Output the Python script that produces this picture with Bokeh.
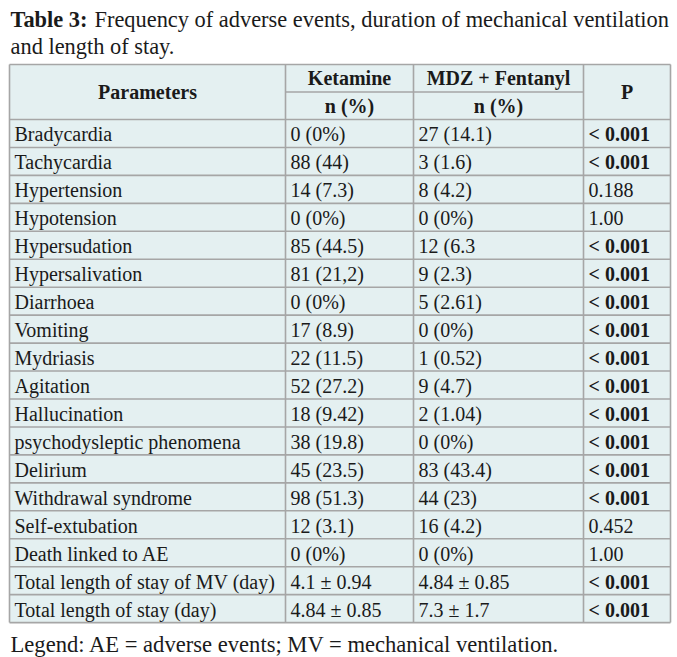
from bokeh.plotting import figure
from bokeh.models import ColumnDataSource, Range1d
from bokeh.core.properties import value
from bokeh.embed import file_html
from bokeh.resources import INLINE

# ---- data ----
title_bold = "Table 3:"
title_rest = "Frequency of adverse events, duration of mechanical ventilation"
title_line2 = "and length of stay."
legend_text = "Legend: AE = adverse events; MV = mechanical ventilation."

header_main = ["Parameters", "Ketamine", "MDZ + Fentanyl", "P"]
header_sub = ["", "n (%)", "n (%)", ""]

parameters = ["Bradycardia", "Tachycardia", "Hypertension", "Hypotension",
              "Hypersudation", "Hypersalivation", "Diarrhoea", "Vomiting",
              "Mydriasis", "Agitation", "Hallucination",
              "psychodysleptic phenomena", "Delirium", "Withdrawal syndrome",
              "Self-extubation", "Death linked to AE",
              "Total length of stay of MV (day)", "Total length of stay (day)"]
ketamine = ["0 (0%)", "88 (44)", "14 (7.3)", "0 (0%)", "85 (44.5)", "81 (21,2)",
            "0 (0%)", "17 (8.9)", "22 (11.5)", "52 (27.2)", "18 (9.42)",
            "38 (19.8)", "45 (23.5)", "98 (51.3)", "12 (3.1)", "0 (0%)",
            "4.1 \u00b1 0.94", "4.84 \u00b1 0.85"]
mdz_fentanyl = ["27 (14.1)", "3 (1.6)", "8 (4.2)", "0 (0%)", "12 (6.3", "9 (2.3)",
                "5 (2.61)", "0 (0%)", "1 (0.52)", "9 (4.7)", "2 (1.04)", "0 (0%)",
                "83 (43.4)", "44 (23)", "16 (4.2)", "0 (0%)",
                "4.84 \u00b1 0.85", "7.3 \u00b1 1.7"]
p_values = ["< 0.001", "< 0.001", "0.188", "1.00", "< 0.001", "< 0.001",
            "< 0.001", "< 0.001", "< 0.001", "< 0.001", "< 0.001", "< 0.001",
            "< 0.001", "< 0.001", "0.452", "1.00", "< 0.001", "< 0.001"]

# ---- layout (picture pixel coordinates) ----
W, H = 677, 657
col_edges = [9, 285, 413, 583, 670]
table_top = 64
sub_h = 27.5
row_h = 27.95
header_bottom = table_top + 2 * sub_h
n_rows = len(parameters)
table_bottom = header_bottom + n_rows * row_h
pad = 5

FONT = value("Liberation Serif")
TXT = "#1a1a1a"
BG = "#e4f0f1"
BORDER = "#a6a6a6"

p = figure(width=W, height=H, output_backend="svg", toolbar_location=None,
           x_range=Range1d(0, W), y_range=Range1d(H, 0),
           min_border=0, background_fill_color="white", border_fill_color="white",
           outline_line_color=None)
p.axis.visible = False
p.grid.visible = False

# background
p.quad(left=[col_edges[0]], right=[col_edges[-1]], top=[table_top], bottom=[table_bottom],
       fill_color=BG, line_color=None)

# grid lines
x0s, y0s, x1s, y1s = [], [], [], []
ys = [table_top, header_bottom] + [header_bottom + (i + 1) * row_h for i in range(n_rows)]
for y in ys:
    x0s.append(col_edges[0]); x1s.append(col_edges[-1]); y0s.append(y); y1s.append(y)
x0s.append(col_edges[1]); x1s.append(col_edges[3])
y0s.append(table_top + sub_h); y1s.append(table_top + sub_h)
for x in col_edges:
    x0s.append(x); x1s.append(x); y0s.append(table_top); y1s.append(table_bottom)
p.segment(x0=x0s, y0=y0s, x1=x1s, y1=y1s, line_color=BORDER, line_width=1.6)

# ---- texts ----
tx, ty, tt, tst, tal = [], [], [], [], []

def add(x, y, t, style="normal", align="left"):
    tx.append(x); ty.append(y); tt.append(t); tst.append(style); tal.append(align)

centers = [(col_edges[i] + col_edges[i + 1]) / 2 for i in range(4)]
add(centers[0], table_top + sub_h, header_main[0], "bold", "center")
add(centers[3], table_top + sub_h, header_main[3], "bold", "center")
for i in (1, 2):
    add(centers[i], table_top + sub_h / 2, header_main[i], "bold", "center")
    add(centers[i], table_top + 1.5 * sub_h, header_sub[i], "bold", "center")

for r in range(n_rows):
    yc = header_bottom + (r + 0.5) * row_h + 1
    add(col_edges[0] + pad, yc, parameters[r])
    add(col_edges[1] + pad, yc, ketamine[r])
    add(col_edges[2] + pad, yc, mdz_fentanyl[r])
    add(col_edges[3] + pad, yc, p_values[r], "bold" if p_values[r].startswith("<") else "normal")

src = ColumnDataSource(dict(x=tx, y=ty, text=tt, style=tst, align=tal))
p.text(x="x", y="y", text="text", source=src, text_font=FONT, text_font_size=value("20px"),
       text_font_style="style", text_align="align", text_baseline="middle", text_color=TXT)

# title
p.text(x=[10], y=[19], text=[title_bold], text_font=FONT, text_font_size=value("22.4px"),
       text_font_style="bold", text_baseline="middle", text_color=TXT)
p.text(x=[94], y=[19], text=[title_rest], text_font=FONT, text_font_size=value("22.4px"),
       text_baseline="middle", text_color=TXT)
p.text(x=[10], y=[46], text=[title_line2], text_font=FONT, text_font_size=value("22.4px"),
       text_baseline="middle", text_color=TXT)

# legend
p.text(x=[10], y=[644], text=[legend_text], text_font=FONT, text_font_size=value("22.6px"),
       text_baseline="middle", text_color=TXT)

open("out.html", "w").write(file_html(p, INLINE))
